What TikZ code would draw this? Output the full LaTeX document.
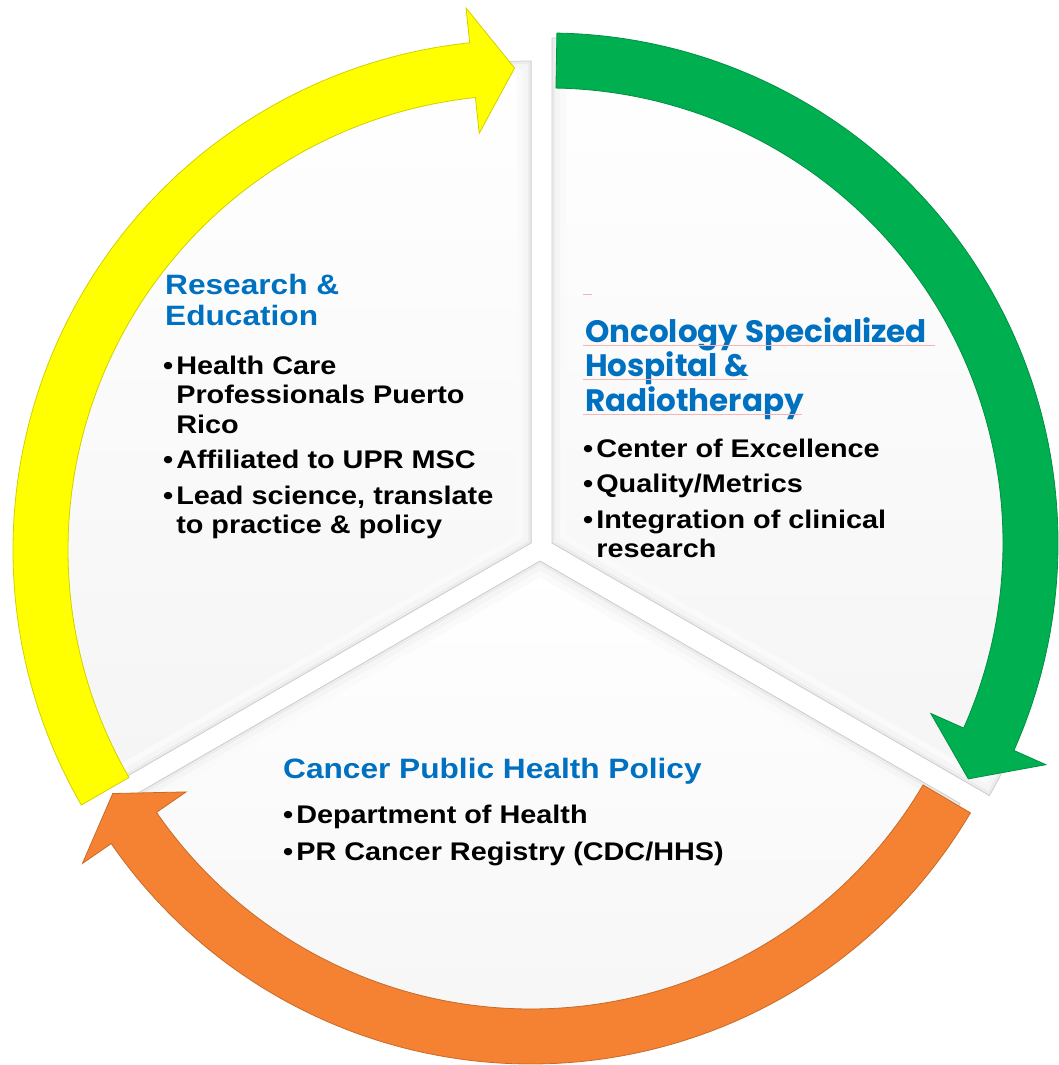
\documentclass[tikz,border=0pt]{standalone}
\usepackage{fontspec}
\setmainfont{Liberation Sans}[FakeStretch=1.13]
\newfontfamily\gothic{Poppins}
\usetikzlibrary{calc}
\definecolor{headblue}{RGB}{0,112,192}
\definecolor{ringyellow}{RGB}{255,255,0}
\definecolor{ringgreen}{RGB}{0,176,80}
\definecolor{ringorange}{RGB}{244,130,50}
\definecolor{spellred}{RGB}{246,180,180}

\begin{document}
\begin{tikzpicture}[x=1pt,y=1pt]
\tikzstyle{heading}=[inner sep=0pt,anchor=base west,text=headblue,font=\fontsize{28}{31}\selectfont\bfseries]
\tikzstyle{bullets}=[inner sep=0pt,anchor=base west,font=\fontsize{25.5}{29.5}\selectfont\bfseries]
\tikzstyle{spell}=[spellred,line width=1pt]
\useasboundingbox (0,0) rectangle (1059,-1065);
% wedge corners and ring centres
\coordinate (wTL) at (531,-543);
\coordinate (wTR) at (552,-543);
\coordinate (wB) at (540,-561);
\coordinate (rY) at (523,-550);
\coordinate (rG) at (548,-543);
\coordinate (rO) at (531,-554);
% three pie wedges with a soft bevel
\foreach \cen/\a/\b/\rad in {wTL/90/210/482,wTR/-30/90/505,wB/210/330/485}{
  \def\sector{(\cen) -- ($(\cen)+(\a:\rad pt)$) arc[start angle=\a,end angle=\b,radius=\rad pt] -- cycle}
  \fill[top color=white,bottom color=gray!8] \sector;
  \begin{scope}
    \clip \sector;
    \draw[gray!4,line width=28pt,line join=round] \sector;
    \draw[gray!8,line width=16pt,line join=round] \sector;
    \draw[gray!15,line width=6pt,line join=round] \sector;
  \end{scope}
  \draw[gray!40,line width=0.7pt] \sector;
}
% curved arrows round the rim
\foreach \cen/\ta/\ha/\pa/\col in {rY/210/96/91/ringyellow,rG/89/-24/-29.3/ringgreen,rO/-30.5/-145.4/-150.2/ringorange}
  \filldraw[fill=\col,draw=\col!82!black,line width=0.8pt]
    ($(\cen)+(\ta:510pt)$) arc[start angle=\ta,end angle=\ha,radius=510pt]
    -- ($(\cen)+(\ha:545pt)$) -- ($(\cen)+(\pa:482pt)$) -- ($(\cen)+(\ha:419pt)$)
    -- ($(\cen)+(\ha:455pt)$) arc[start angle=\ha,end angle=\ta,radius=455pt] -- cycle;
% research & education
\node[heading] (resHead) at (165,-294) {\begin{tabular}[t]{@{}l@{}}Research \&\\Education\end{tabular}};
\node[bullets] (resList) at (163,-374) {\begin{tabular}[t]{@{}l@{}l@{}}
\textbullet\hspace{3pt} & Health Care\\
 & Professionals Puerto\\
 & Rico\\[6pt]
\textbullet\hspace{3pt} & Affiliated to UPR MSC\\[6pt]
\textbullet\hspace{3pt} & Lead science, translate\\
 & to practice \& policy
\end{tabular}};
% hospital
\draw[spell] (583,-294) -- (592,-294);
\node[heading,font=\gothic\fontsize{31}{33.5}\selectfont\bfseries] (oncHead) at (585,-342) {\begin{tabular}[t]{@{}l@{}}Oncology Specialized\\Hospital \&\\Radiotherapy\end{tabular}};
\draw[spell] (583,-345) -- (935,-345);
\draw[spell] (583,-379) -- (747,-379);
\draw[spell] (583,-414) -- (802,-414);
\node[bullets] (oncList) at (583,-457) {\begin{tabular}[t]{@{}l@{}l@{}}
\textbullet\hspace{3pt} & Center of Excellence\\[6pt]
\textbullet\hspace{3pt} & Quality/Metrics\\[6pt]
\textbullet\hspace{3pt} & Integration of clinical\\
 & research
\end{tabular}};
% public health policy
\node[heading] (polHead) at (283,-778) {Cancer Public Health Policy};
\node[bullets] (polList) at (283,-823) {\begin{tabular}[t]{@{}l@{}l@{}}
\textbullet\hspace{3pt} & Department of Health\\[8pt]
\textbullet\hspace{3pt} & PR Cancer Registry (CDC/HHS)
\end{tabular}};
\end{tikzpicture}
\end{document}
